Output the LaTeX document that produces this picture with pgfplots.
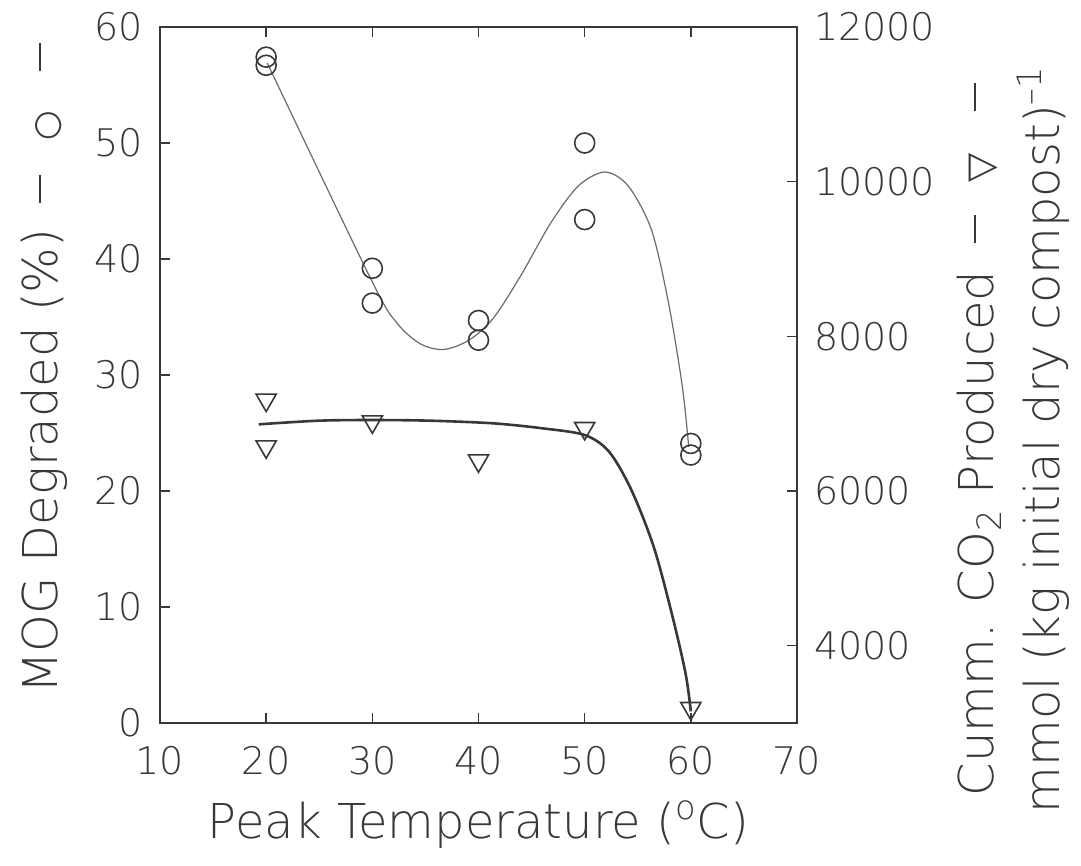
\documentclass[border=0pt]{standalone}
\usepackage{fontspec}
\setmainfont{DejaVu Sans ExtraLight}
\newfontfamily\symfont{DejaVu Sans}
\usepackage{pgfplots}
\pgfplotsset{compat=1.18}
\definecolor{ink}{gray}{0.22}
\definecolor{curveA}{gray}{0.42}
\newcommand{\dashbar}{\rule[0.36em]{14pt}{0.9pt}}
\begin{document}
\begin{tikzpicture}
\pgfplotsset{
  common/.style={
    scale only axis, width=318.5pt, height=348pt,
    xmin=10, xmax=70,
    tick align=inside, major tick length=5pt,
    axis line style={ink, line width=1pt},
    tick style={ink, line width=0.8pt},
    ticklabel style={font=\fontsize{19}{22}\selectfont, text=ink},
    /pgf/number format/assume math mode=true,
    /pgf/number format/1000 sep={},
    scaled ticks=false,
    label style={font=\fontsize{24}{33}\selectfont, text=ink},
  }
}
\begin{axis}[common, name=ax,
  ymin=0, ymax=60,
  xtick={10,20,...,70}, ytick={0,10,...,60},
  xtick pos=both, ytick pos=left,
  xticklabel style={yshift=-8pt},
  yticklabel style={xshift=-5pt},
  xlabel={Peak Temperature ({\textsuperscript{o}}C)},
  xlabel style={at={([yshift=-57.5pt]axis description cs:0.5,0)}, anchor=base},
  ylabel={MOG Degraded (\%)\hspace{13pt}\dashbar\hspace{17pt}{\symfont\fontsize{17}{17}\selectfont ○}\hspace{20pt}\dashbar},
  ylabel style={at={([xshift=-51pt]axis description cs:0,0.032)}, anchor=base west},
]
\addplot[curveA, line width=0.6pt, smooth] coordinates {
 (20.1,56.9) (29.9,38.2) (32.3,34.5) (34.5,32.7) (36.7,32.2)
 (39.1,33.0) (41.4,34.9) (44.0,38.6) (46.8,43.1) (49.4,46.3) (51.9,47.5)
 (54.1,46.3) (56.3,42.5) (57.9,36.2) (59.2,29.0) (59.8,23.8)
};
\addplot[only marks, mark=o, mark size=5pt, mark options={ink, line width=0.8pt}] coordinates {
 (20,57.4) (20,56.7) (30,39.2) (30,36.2) (40,34.7) (40,33.0)
 (50,50.0) (50,43.4) (60,24.1) (60,23.1)
};
\end{axis}
\begin{axis}[common,
  ymin=3000, ymax=12000,
  axis x line=none, axis y line*=right,
  ytick={4000,6000,...,12000},
  yticklabel style={xshift=5pt},
  ylabel={Cumm. CO\textsubscript{2} Produced\hspace{14pt}\dashbar\hspace{16pt}{\symfont\fontsize{19}{19}\selectfont ▽}\hspace{21pt}\dashbar \\ mmol (kg initial dry compost)\textsuperscript{–1}},
  ylabel style={align=center, at={([xshift=108pt]axis description cs:1,0.407)}, anchor=center},
]
\addplot[ink, line width=1.3pt, smooth] coordinates {
 (19.3,6862) (24.9,6909) (30,6918) (35.5,6909) (41.4,6875) (46,6811)
 (50,6724) (52.3,6508) (54.4,6013) (56.5,5280) (58.2,4418) (59.5,3643) (60,3150)
};
\addplot[only marks, mark=triangle, mark size=5.8pt, mark options={ink, line width=0.8pt, rotate=180, fill=white}] coordinates {
 (20,7177) (20,6573) (30,6896) (40,6392) (50,6811) (60,3190)
};
\end{axis}
\pgfresetboundingbox
\path[use as bounding box] ([xshift=-80pt,yshift=-71pt]ax.south west) rectangle ([xshift=142pt,yshift=13.5pt]ax.north east);
\end{tikzpicture}
\end{document}
